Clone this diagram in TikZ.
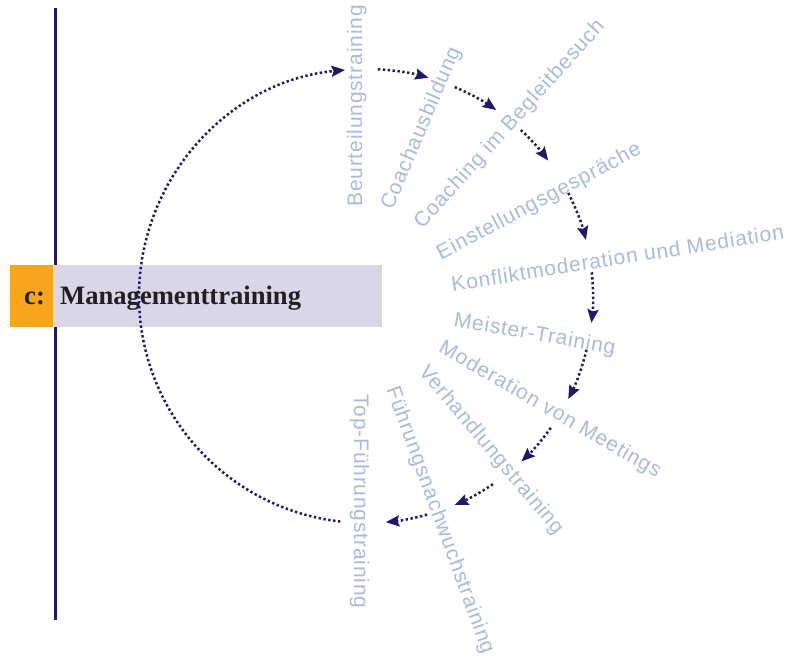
\documentclass[tikz,border=0pt]{standalone}
\usepackage{fontspec}
\setmainfont{Liberation Sans}
\newfontfamily\lblfont[LetterSpace=4.0]{Liberation Sans}
\newfontfamily\ttlfont{Liberation Serif}
\usetikzlibrary{arrows.meta,calc}
\definecolor{navy}{RGB}{30,26,104}
\definecolor{lblcol}{RGB}{170,186,220}
\definecolor{orangec}{RGB}{247,166,28}
\definecolor{lavc}{RGB}{217,214,232}
\definecolor{ttlcol}{RGB}{35,31,32}
\tikzset{
  lbl/.style={font=\lblfont\fontsize{21pt}{25pt}\selectfont, text=lblcol, inner sep=0pt, anchor=base west},
  ttl/.style={font=\ttlfont\bfseries\fontsize{26.6pt}{30pt}\selectfont, text=ttlcol, inner sep=0pt, anchor=base west},
  dotarrow/.style={draw=navy, line width=2.5pt, dash pattern=on 2.4pt off 2.5pt, -{Stealth[length=13.5pt,width=11pt,inset=2pt]}},
  boxnode/.style={inner sep=0pt, anchor=north west, draw=none}
}
\begin{document}
\begin{tikzpicture}[x=1pt,y=1pt]
\useasboundingbox (0,0) rectangle (809,-661);
% vertical bar
\coordinate (vt) at (55,-8);
\coordinate (vb) at (55,-620);
\draw[navy, line width=3pt] (vt) -- (vb);
% header boxes
\node[boxnode, fill=orangec, minimum width=43pt, minimum height=62pt] (ob) at (10,-265) {};
\node[boxnode, fill=lavc, minimum width=329pt, minimum height=62pt] (lb) at (53,-265) {};
\node[ttl] (c) at (24,-304) {c:};
\node[ttl] (mt) at (60,-304) {Managementtraining};
% circle centre
\coordinate (C) at (366,-296);
% labels
\node[lbl, rotate=90]  (l1)  at (362,-207)   {Beurteilungstraining};
\node[lbl, rotate=67]  (l2)  at (392.5,-211) {Coachausbildung};
\node[lbl, rotate=48]  (l3)  at (422.5,-230) {Coaching im Begleitbesuch};
\node[lbl, rotate=28]  (l4)  at (441,-260.5) {Einstellungsgespräche};
\node[lbl, rotate=9]   (l5)  at (452.5,-291.5) {Konfliktmoderation und Mediation};
\node[lbl, rotate=-10] (l6)  at (453,-326)   {Meister-Training};
\node[lbl, rotate=-30] (l7)  at (437.5,-351.5) {Moderation von Meetings};
\node[lbl, rotate=-50] (l8)  at (418,-372)   {Verhandlungstraining};
\node[lbl, rotate=-70] (l9)  at (386,-389)   {Führungsnachwuchstraining};
\node[lbl, rotate=-90] (l10) at (354,-394)   {Top-Führungstraining};
% arc start points
\coordinate (s0) at ($(C)+(263.5:227)$);
\coordinate (s1) at ($(C)+(87:227)$);
\coordinate (s2) at ($(C)+(67:227)$);
\coordinate (s3) at ($(C)+(47:227)$);
\coordinate (s4) at ($(C)+(27:227)$);
\coordinate (s5) at ($(C)+(6:227)$);
\coordinate (s6) at ($(C)+(-13.7:227)$);
\coordinate (s7) at ($(C)+(-35.5:227)$);
\coordinate (s8) at ($(C)+(-56:227)$);
\coordinate (s9) at ($(C)+(-74.4:227)$);
% arcs
\draw[dotarrow] (s0) arc[start angle=263.5, end angle=95.3, radius=227];
\draw[dotarrow] (s1) arc[start angle=87, end angle=74, radius=227];
\draw[dotarrow] (s2) arc[start angle=67, end angle=55, radius=227];
\draw[dotarrow] (s3) arc[start angle=47, end angle=36.6, radius=227];
\draw[dotarrow] (s4) arc[start angle=27, end angle=14.3, radius=227];
\draw[dotarrow] (s5) arc[start angle=6, end angle=-6.8, radius=227];
\draw[dotarrow] (s6) arc[start angle=-13.7, end angle=-27, radius=227];
\draw[dotarrow] (s7) arc[start angle=-35.5, end angle=-46.8, radius=227];
\draw[dotarrow] (s8) arc[start angle=-56, end angle=-67, radius=227];
\draw[dotarrow] (s9) arc[start angle=-74.4, end angle=-85, radius=227];
\end{tikzpicture}
\end{document}
